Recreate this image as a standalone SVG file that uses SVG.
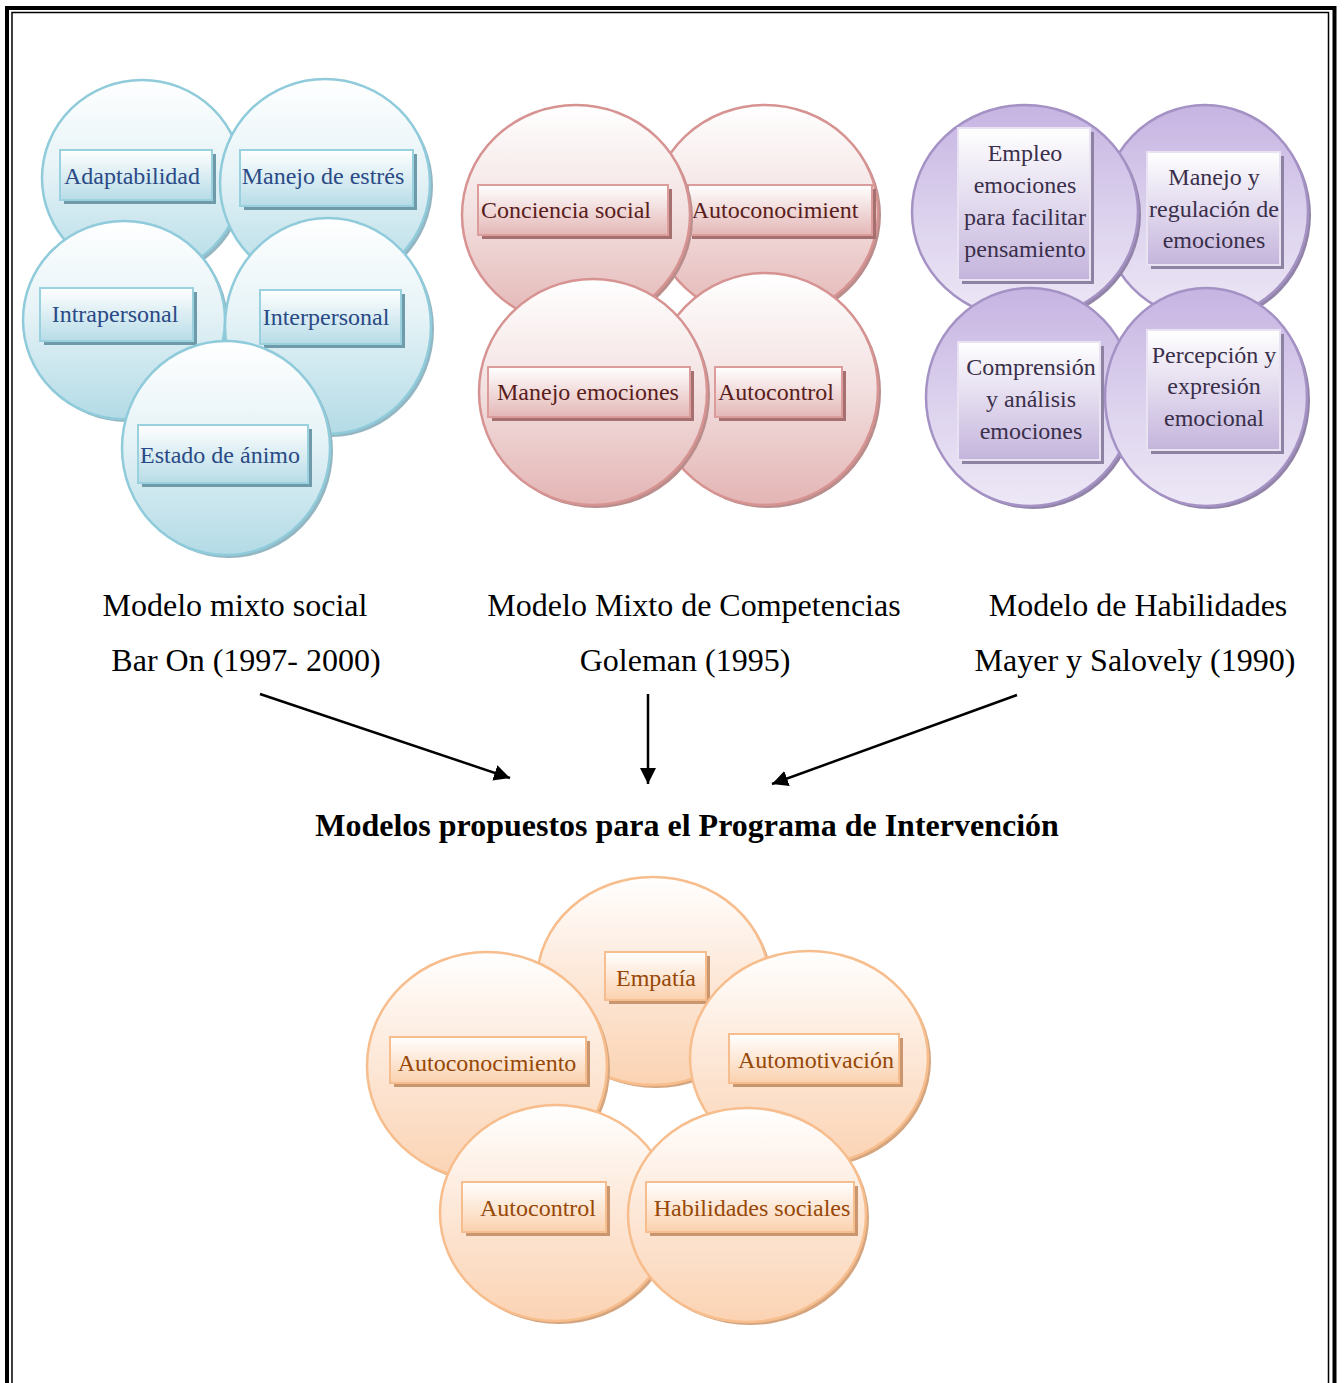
<svg xmlns="http://www.w3.org/2000/svg" width="1344" height="1383" viewBox="0 0 1344 1383">
<defs>
<linearGradient id="gB" x1="0" y1="0" x2="0" y2="1"><stop offset="0" stop-color="#ffffff"/><stop offset="0.45" stop-color="#e6f3f7"/><stop offset="1" stop-color="#b3dbe6"/></linearGradient>
<linearGradient id="gBb" x1="0" y1="0" x2="0" y2="1"><stop offset="0" stop-color="#ffffff"/><stop offset="1" stop-color="#b7dce7"/></linearGradient>
<linearGradient id="gP" x1="0" y1="0" x2="0" y2="1"><stop offset="0" stop-color="#ffffff"/><stop offset="0.45" stop-color="#f4e3e3"/><stop offset="1" stop-color="#e3b5b4"/></linearGradient>
<linearGradient id="gPb" x1="0" y1="0" x2="0" y2="1"><stop offset="0" stop-color="#ffffff"/><stop offset="1" stop-color="#e3b7b6"/></linearGradient>
<linearGradient id="gU" x1="0" y1="0" x2="0" y2="1"><stop offset="0" stop-color="#c6b4e2"/><stop offset="0.55" stop-color="#ddd3ee"/><stop offset="1" stop-color="#ede8f6"/></linearGradient>
<linearGradient id="gUb" x1="0" y1="0" x2="0" y2="1"><stop offset="0" stop-color="#ffffff"/><stop offset="1" stop-color="#c4b4dc"/></linearGradient>
<linearGradient id="gO" x1="0" y1="0" x2="0" y2="1"><stop offset="0" stop-color="#ffffff"/><stop offset="0.45" stop-color="#fde9da"/><stop offset="1" stop-color="#fbd3b3"/></linearGradient>
<linearGradient id="gOb" x1="0" y1="0" x2="0" y2="1"><stop offset="0" stop-color="#ffffff"/><stop offset="1" stop-color="#fbd1ae"/></linearGradient>
<marker id="arr" markerUnits="userSpaceOnUse" markerWidth="18" markerHeight="16" refX="16" refY="8" orient="auto"><path d="M0,0 L16,8 L0,16 Z" fill="#000"/></marker>
</defs>
<style>
.lbl{font-family:"Liberation Serif","Times New Roman",serif;font-size:32px;fill:#000;text-anchor:middle}
.ttl{font-family:"Liberation Serif","Times New Roman",serif;font-size:32px;font-weight:bold;fill:#000;text-anchor:middle}
.t{font-family:"Liberation Serif","Times New Roman",serif;font-size:24px;text-anchor:middle}
.cB{fill:url(#gB);stroke:#8fcbda;stroke-width:2.5}
.sB{fill:#93b6c2}
.bB{fill:url(#gBb);stroke:#9ad1de;stroke-width:2}
.shB{fill:#6f9aa9}
.tB{fill:#2a4a86}
.cP{fill:url(#gP);stroke:#d69392;stroke-width:2.5}
.sP{fill:#b98d8c}
.bP{fill:url(#gPb);stroke:#dc9c9b;stroke-width:2}
.shP{fill:#a67070}
.tP{fill:#5a1d1c}
.cU{fill:url(#gU);stroke:#a592c5;stroke-width:2.5}
.sU{fill:#9284a8}
.bU{fill:url(#gUb);stroke:#e8e2f2;stroke-width:2}
.shU{fill:#8e82a3}
.tU{fill:#3a2f4a}
.cO{fill:url(#gO);stroke:#f7bd8c;stroke-width:2.5}
.sO{fill:#d4a57f}
.bO{fill:url(#gOb);stroke:#f6be8e;stroke-width:2}
.shO{fill:#c99670}
.tO{fill:#974806}
.conn{stroke:#000;stroke-width:2.5;fill:none;marker-end:url(#arr)}
</style>
<rect width="1344" height="1383" fill="#ffffff"/>
<!-- page border -->
<g id="border" fill="none" stroke="#000">
<path d="M7,1383 V8 H1334.5 V1383" stroke-width="4"/>
<path d="M12,1383 V12.5 H1328.5 V1383" stroke-width="1.5"/>
</g>

<!-- Blue group: Bar On -->
<g id="node-adaptabilidad">
<ellipse class="sB" cx="145" cy="181" rx="100" ry="98"/>
<ellipse class="cB" cx="142" cy="178" rx="100" ry="98"/>
<rect class="shB" x="64" y="154" width="152" height="50"/>
<rect class="bB" x="60" y="150" width="152" height="50"/>
<text class="t tB" x="132" y="184">Adaptabilidad</text>
</g>
<g id="node-manejo-estres">
<ellipse class="sB" cx="328" cy="186" rx="105" ry="104"/>
<ellipse class="cB" cx="325" cy="183" rx="105" ry="104"/>
<rect class="shB" x="244" y="154" width="173" height="56"/>
<rect class="bB" x="240" y="150" width="173" height="56"/>
<text class="t tB" x="323" y="184">Manejo de estrés</text>
</g>
<g id="node-intrapersonal">
<ellipse class="sB" cx="127" cy="323" rx="101" ry="99"/>
<ellipse class="cB" cx="124" cy="320" rx="101" ry="99"/>
<rect class="shB" x="44" y="292" width="153" height="53"/>
<rect class="bB" x="40" y="288" width="153" height="53"/>
<text class="t tB" x="115" y="322">Intrapersonal</text>
</g>
<g id="node-interpersonal">
<ellipse class="sB" cx="331" cy="329" rx="103" ry="108"/>
<ellipse class="cB" cx="328" cy="326" rx="103" ry="108"/>
<rect class="shB" x="264" y="294" width="141" height="54"/>
<rect class="bB" x="260" y="290" width="141" height="54"/>
<text class="t tB" x="326" y="325">Interpersonal</text>
</g>
<g id="node-estado-animo">
<ellipse class="sB" cx="229" cy="451" rx="104" ry="107"/>
<ellipse class="cB" cx="226" cy="448" rx="104" ry="107"/>
<rect class="shB" x="142" y="429" width="170" height="58"/>
<rect class="bB" x="138" y="425" width="170" height="58"/>
<text class="t tB" x="220" y="463">Estado de ánimo</text>
</g>

<!-- Pink group: Goleman -->
<g id="node-autoconocimient">
<ellipse class="sP" cx="768" cy="215" rx="113" ry="107"/>
<ellipse class="cP" cx="765" cy="212" rx="113" ry="107"/>
<rect class="shP" x="692" y="189" width="184" height="50"/>
<rect class="bP" x="688" y="185" width="184" height="50"/>
<text class="t tP" x="775" y="218">Autoconocimient</text>
</g>
<g id="node-conciencia-social">
<ellipse class="sP" cx="579" cy="218" rx="114" ry="110"/>
<ellipse class="cP" cx="576" cy="215" rx="114" ry="110"/>
<rect class="shP" x="482" y="189" width="190" height="50"/>
<rect class="bP" x="478" y="185" width="190" height="50"/>
<text class="t tP" x="566" y="218">Conciencia social</text>
</g>
<g id="node-autocontrol-g">
<ellipse class="sP" cx="768" cy="392" rx="113" ry="116"/>
<ellipse class="cP" cx="765" cy="389" rx="113" ry="116"/>
<rect class="shP" x="719" y="371" width="127" height="50"/>
<rect class="bP" x="715" y="367" width="127" height="50"/>
<text class="t tP" x="776" y="400">Autocontrol</text>
</g>
<g id="node-manejo-emociones">
<ellipse class="sP" cx="596" cy="395" rx="114" ry="113"/>
<ellipse class="cP" cx="593" cy="392" rx="114" ry="113"/>
<rect class="shP" x="492" y="371" width="202" height="50"/>
<rect class="bP" x="488" y="367" width="202" height="50"/>
<text class="t tP" x="588" y="400">Manejo emociones</text>
</g>

<!-- Purple group: Mayer y Salovey -->
<g id="node-manejo-regulacion">
<ellipse class="sU" cx="1208" cy="215" rx="103" ry="107"/>
<ellipse class="cU" cx="1205" cy="212" rx="103" ry="107"/>
<rect class="shU" x="1151" y="156" width="133" height="113"/>
<rect class="bU" x="1147" y="152" width="133" height="113"/>
<text class="t tU" x="1214"><tspan x="1214" y="185">Manejo y</tspan><tspan x="1214" y="217">regulación de</tspan><tspan x="1214" y="248">emociones</tspan></text>
</g>
<g id="node-empleo">
<ellipse class="sU" cx="1028" cy="215" rx="113" ry="107"/>
<ellipse class="cU" cx="1025" cy="212" rx="113" ry="107"/>
<rect class="shU" x="962" y="132" width="132" height="152"/>
<rect class="bU" x="958" y="128" width="132" height="152"/>
<text class="t tU" x="1025"><tspan x="1025" y="161">Empleo</tspan><tspan x="1025" y="193">emociones</tspan><tspan x="1025" y="225">para facilitar</tspan><tspan x="1025" y="257">pensamiento</tspan></text>
</g>
<g id="node-comprension">
<ellipse class="sU" cx="1033" cy="400" rx="104" ry="109"/>
<ellipse class="cU" cx="1030" cy="397" rx="104" ry="109"/>
<rect class="shU" x="962" y="346" width="142" height="118"/>
<rect class="bU" x="958" y="342" width="142" height="118"/>
<text class="t tU" x="1031"><tspan x="1031" y="375">Comprensión</tspan><tspan x="1031" y="407">y análisis</tspan><tspan x="1031" y="439">emociones</tspan></text>
</g>
<g id="node-percepcion">
<ellipse class="sU" cx="1209" cy="400" rx="101" ry="109"/>
<ellipse class="cU" cx="1206" cy="397" rx="101" ry="109"/>
<rect class="shU" x="1151" y="334" width="133" height="120"/>
<rect class="bU" x="1147" y="330" width="133" height="120"/>
<text class="t tU" x="1214"><tspan x="1214" y="363">Percepción y</tspan><tspan x="1214" y="394">expresión</tspan><tspan x="1214" y="426">emocional</tspan></text>
</g>

<!-- Model labels -->
<g id="labels">
<text class="lbl" x="235" y="616">Modelo mixto social</text>
<text class="lbl" x="246" y="671">Bar On (1997- 2000)</text>
<text class="lbl" x="694" y="616">Modelo Mixto de Competencias</text>
<text class="lbl" x="685" y="671">Goleman (1995)</text>
<text class="lbl" x="1138" y="616">Modelo de Habilidades</text>
<text class="lbl" x="1135" y="671">Mayer y Salovely (1990)</text>
</g>

<!-- Connectors -->
<g id="connectors">
<line class="conn" x1="260" y1="694" x2="510" y2="778"/>
<line class="conn" x1="648" y1="694" x2="648" y2="784"/>
<line class="conn" x1="1017" y1="695" x2="772" y2="784"/>
</g>

<g id="title">
<text class="ttl" x="687" y="836">Modelos propuestos para el Programa de Intervención</text>
</g>

<!-- Orange group: proposed -->
<g id="node-empatia">
<ellipse class="sO" cx="656" cy="984" rx="116" ry="104"/>
<ellipse class="cO" cx="653" cy="981" rx="116" ry="104"/>
<rect class="shO" x="609" y="956" width="101" height="48"/>
<rect class="bO" x="605" y="952" width="101" height="48"/>
<text class="t tO" x="656" y="986">Empatía</text>
</g>
<g id="node-autoconocimiento">
<ellipse class="sO" cx="490" cy="1069" rx="120" ry="114"/>
<ellipse class="cO" cx="487" cy="1066" rx="120" ry="114"/>
<rect class="shO" x="394" y="1041" width="196" height="46"/>
<rect class="bO" x="390" y="1037" width="196" height="46"/>
<text class="t tO" x="487" y="1071">Autoconocimiento</text>
</g>
<g id="node-automotivacion">
<ellipse class="sO" cx="812" cy="1061" rx="119" ry="107"/>
<ellipse class="cO" cx="809" cy="1058" rx="119" ry="107"/>
<rect class="shO" x="733" y="1038" width="170" height="49"/>
<rect class="bO" x="729" y="1034" width="170" height="49"/>
<text class="t tO" x="816" y="1068">Automotivación</text>
</g>
<g id="node-autocontrol">
<ellipse class="sO" cx="559" cy="1216" rx="116" ry="108"/>
<ellipse class="cO" cx="556" cy="1213" rx="116" ry="108"/>
<rect class="shO" x="466" y="1186" width="144" height="50"/>
<rect class="bO" x="462" y="1182" width="144" height="50"/>
<text class="t tO" x="538" y="1216">Autocontrol</text>
</g>
<g id="node-habilidades">
<ellipse class="sO" cx="750" cy="1218" rx="119" ry="107"/>
<ellipse class="cO" cx="747" cy="1215" rx="119" ry="107"/>
<rect class="shO" x="650" y="1186" width="208" height="50"/>
<rect class="bO" x="646" y="1182" width="208" height="50"/>
<text class="t tO" x="752" y="1216">Habilidades sociales</text>
</g>
</svg>
